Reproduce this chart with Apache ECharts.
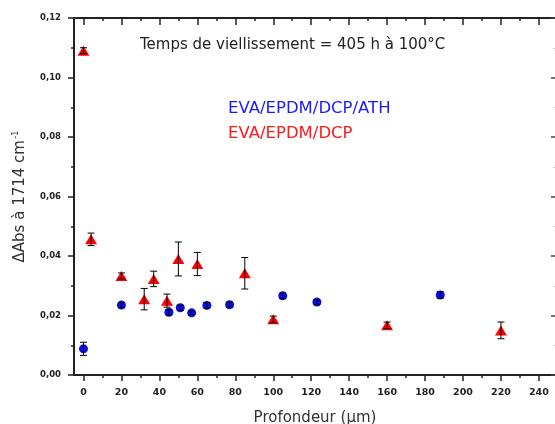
<!DOCTYPE html>
<html lang="fr">
<head>
<meta charset="UTF-8">
<title>Temps de viellissement</title>
<script src="https://cdn.jsdelivr.net/npm/echarts@6/dist/echarts.min.js"></script>
<style>
  html, body { margin: 0; padding: 0; background: #fff; }
  #main { width: 555px; height: 424px; }
</style>
</head>
<body>
<div id="main"></div>
<script>
// EVA/EPDM/DCP/ATH (blue circles)
var athDepth = [0, 20, 45, 51, 57, 65, 77, 105, 123, 188];
var athValue = [0.0088, 0.0235, 0.0211, 0.0226, 0.0209, 0.0234, 0.0236, 0.0266, 0.0245, 0.0269];
var athError = [0.0022, 0.0008, 0.0009, 0.0008, 0.0006, 0.0009, 0.0008, 0.0009, 0.0008, 0.0011];

// EVA/EPDM/DCP (red triangles)
var dcpDepth = [0, 4, 20, 32, 37, 44, 50, 60, 85, 100, 160, 220];
var dcpValue = [0.109, 0.0456, 0.0333, 0.0255, 0.0323, 0.0250, 0.0390, 0.0373, 0.0342, 0.0187, 0.0167, 0.0150];
var dcpError = [0.001, 0.0021, 0.001, 0.0036, 0.0026, 0.0022, 0.0057, 0.0039, 0.0053, 0.0011, 0.0011, 0.0028];

var xMajorTicks = [0, 20, 40, 60, 80, 100, 120, 140, 160, 180, 200, 220, 240];
var xMinorTicks = [10, 30, 50, 70, 90, 110, 130, 150, 170, 190, 210, 230];

var titleText = 'Temps de viellissement = 405 h à 100°C';
var nameAth = 'EVA/EPDM/DCP/ATH';
var nameDcp = 'EVA/EPDM/DCP';

var axisColor = '#222';
var fontFam = 'DejaVu Sans';

function pairs(xs, ys) {
    return xs.map(function (x, i) { return [x, ys[i]]; });
}
function errRows(xs, ys, es) {
    return xs.map(function (x, i) { return [x, ys[i] - es[i], ys[i] + es[i]]; });
}

// error bar with caps, drawn over the markers
function renderErr(params, api) {
    var lo = api.coord([api.value(0), api.value(1)]);
    var hi = api.coord([api.value(0), api.value(2)]);
    var half = 3.5;
    var st = { stroke: '#000', lineWidth: 1 };
    return {
        type: 'group',
        children: [
            { type: 'line', shape: { x1: lo[0], y1: lo[1], x2: hi[0], y2: hi[1] }, style: st },
            { type: 'line', shape: { x1: lo[0] - half, y1: lo[1], x2: lo[0] + half, y2: lo[1] }, style: st },
            { type: 'line', shape: { x1: hi[0] - half, y1: hi[1], x2: hi[0] + half, y2: hi[1] }, style: st }
        ]
    };
}

function xAxisOf(pos, ticks, len, inside, showLine, showLabel) {
    return {
        type: 'value', position: pos, min: -5, max: 249,
        splitLine: { show: false },
        axisLine: { show: showLine, onZero: false, lineStyle: { color: axisColor, width: 2 } },
        axisTick: { show: true, inside: inside, length: len, customValues: ticks,
            lineStyle: { color: axisColor, width: 1.5 } },
        axisLabel: { show: showLabel, customValues: ticks, margin: 13,
            color: '#222', fontFamily: fontFam, fontWeight: 'bold', fontSize: 9.5 }
    };
}

var myChart = echarts.init(document.getElementById('main'));

var option = {
    animation: false,
    backgroundColor: '#fff',
    grid: { left: 74, right: -1, top: 18, bottom: 49, outerBoundsMode: 'none' },
    xAxis: [
        Object.assign(xAxisOf('bottom', xMajorTicks, 6, false, true, true), {
            name: 'Profondeur (µm)', nameLocation: 'middle', nameGap: 36,
            nameTextStyle: { fontFamily: fontFam, fontSize: 15, color: '#333' }
        }),
        xAxisOf('bottom', xMinorTicks, 3, false, false, false),
        xAxisOf('top', xMajorTicks, 7, true, true, false),
        xAxisOf('top', xMinorTicks, 3, true, false, false)
    ],
    yAxis: [{
        type: 'value', min: 0, max: 0.12, interval: 0.02, position: 'left',
        name: '{a|ΔAbs à 1714 cm}{b|-1}', nameLocation: 'middle', nameGap: 44, nameRotate: 90,
        nameTextStyle: {
            rich: {
                a: { fontFamily: fontFam, fontSize: 15, color: '#333', lineHeight: 19 },
                b: { fontFamily: fontFam, fontSize: 8.5, color: '#333', verticalAlign: 'top', lineHeight: 19, padding: [0, 0, 8, 1] }
            }
        },
        splitLine: { show: false },
        axisLine: { show: true, onZero: false, lineStyle: { color: axisColor, width: 2 } },
        axisTick: { show: true, length: 6, lineStyle: { color: axisColor, width: 1.5 } },
        minorTick: { show: true, splitNumber: 2, length: 3, lineStyle: { color: axisColor, width: 1.5 } },
        axisLabel: { margin: 13, color: '#222', fontFamily: fontFam, fontWeight: 'bold', fontSize: 8.5,
            formatter: function (v) { return v.toFixed(2).replace('.', ','); } }
    }, {
        type: 'value', min: 0, max: 0.12, interval: 0.02, position: 'right',
        splitLine: { show: false },
        axisLine: { show: true, onZero: false, lineStyle: { color: axisColor, width: 2 } },
        axisTick: { show: true, inside: true, length: 5, lineStyle: { color: '#444', width: 1.5 } },
        minorTick: { show: true, splitNumber: 2, length: 2, lineStyle: { color: '#aaa', width: 1 } },
        axisLabel: { show: false }
    }],
    graphic: [
        { type: 'text', left: 140, top: 38, style: { text: titleText, fontFamily: fontFam, fontSize: 15, fill: '#222' } },
        { type: 'text', left: 228, top: 100, style: { text: nameAth, fontFamily: fontFam, fontSize: 16.5, fill: '#1a1aff' } },
        { type: 'text', left: 228, top: 125, style: { text: nameDcp, fontFamily: fontFam, fontSize: 16.5, fill: '#ff1a1a' } }
    ],
    series: [{
        name: nameAth, type: 'scatter', symbol: 'circle', symbolSize: 9,
        itemStyle: { color: '#0a0aee', opacity: 1 },
        data: pairs(athDepth, athValue), z: 3
    }, {
        name: nameDcp, type: 'scatter', symbol: 'triangle', symbolSize: [12, 10],
        itemStyle: { color: '#ff0000', opacity: 1 },
        data: pairs(dcpDepth, dcpValue), z: 3
    }, {
        type: 'custom', renderItem: renderErr, z: 5,
        encode: { x: 0, y: [1, 2] },
        data: errRows(athDepth, athValue, athError)
    }, {
        type: 'custom', renderItem: renderErr, z: 5,
        encode: { x: 0, y: [1, 2] },
        data: errRows(dcpDepth, dcpValue, dcpError)
    }]
};

myChart.setOption(option);
</script>
</body>
</html>
